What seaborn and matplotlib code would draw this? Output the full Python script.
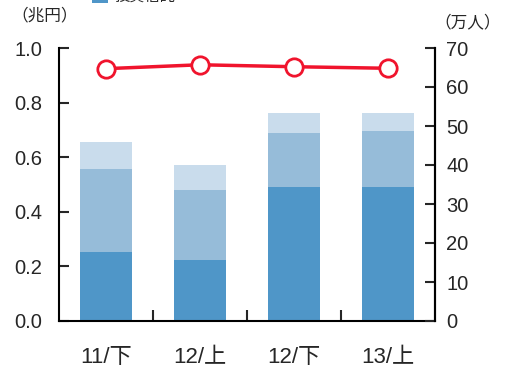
import matplotlib
matplotlib.use("Agg")
import matplotlib.pyplot as plt
import seaborn as sns
import pandas as pd
import numpy as np
from matplotlib.patches import Rectangle
from matplotlib.ticker import FixedLocator

sns.set_style("white")
plt.rcParams["font.family"] = ["Liberation Sans", "Noto Sans CJK JP", "DejaVu Sans"]

# Half-year periods
periods = ["11/下", "12/上", "12/下", "13/上"]
# Stacked amounts (兆円), bottom to top
seg_bottom = [0.253, 0.223, 0.491, 0.491]
seg_middle = [0.304, 0.257, 0.198, 0.205]
seg_top = [0.098, 0.091, 0.073, 0.066]
# Headcount (万人), right axis
people = [64.7, 65.7, 65.2, 64.8]

c_dark = "#4F96C8"
c_mid = "#96BCD9"
c_light = "#C9DCEC"
c_red = "#F0142D"

W, H = 509, 368

cum1 = np.array(seg_bottom)
cum2 = cum1 + np.array(seg_middle)
cum3 = cum2 + np.array(seg_top)
df = pd.DataFrame({"period": periods, "c1": cum1, "c2": cum2, "c3": cum3,
                   "pos": range(len(periods)), "people": people})

fig = plt.figure(figsize=(W / 100, H / 100), dpi=100)
ax = fig.add_axes([59 / W, 1 - 321 / H, (435 - 59) / W, (321 - 48) / H])

for col, color in [("c3", c_light), ("c2", c_mid), ("c1", c_dark)]:
    sns.barplot(data=df, x="period", y=col, order=periods, color=color,
                width=0.56, saturation=1, ax=ax, edgecolor="none", linewidth=0)

ax.set_xlim(-0.5, 3.5)
ax.set_ylim(0, 1.0)
ax.set_yticks(np.arange(0, 1.01, 0.2))
ax.set_yticklabels([f"{v:.1f}" for v in np.arange(0, 1.01, 0.2)])
ax.set_xlabel("")
ax.set_ylabel("")
ax.tick_params(axis="y", direction="in", length=7, width=1.5, labelsize=14.5, pad=12, left=True)
ax.tick_params(axis="x", which="major", length=0, labelsize=16, pad=19)
ax.xaxis.set_minor_locator(FixedLocator([0.5, 1.5, 2.5]))
ax.tick_params(axis="x", which="minor", direction="in", length=8, width=1.5, bottom=True)
ax.spines["top"].set_visible(False)
for s in ["left", "bottom", "right"]:
    ax.spines[s].set_color("black")
    ax.spines[s].set_linewidth(1.5)

ax2 = ax.twinx()
sns.lineplot(data=df, x="pos", y="people", ax=ax2, color=c_red, linewidth=2.5,
             marker="o", markersize=12.5, markerfacecolor="white",
             markeredgecolor=c_red, markeredgewidth=2)
ax2.set_ylim(0, 70)
ax2.set_xlim(-0.5, 3.5)
ax2.set_yticks(range(0, 71, 10))
ax2.set_ylabel("")
ax2.set_xlabel("")
ax2.tick_params(axis="y", direction="in", length=7, width=1.5, labelsize=14.5, pad=8, right=True)
for s in ["top", "left", "bottom"]:
    ax2.spines[s].set_visible(False)
ax2.spines["right"].set_color("black")
ax2.spines["right"].set_linewidth(1.5)

# Unit captions
fig.text(11 / W, 1 - 15 / H, "（兆円）", fontsize=12, ha="left", va="center")
fig.text(434 / W, 1 - 22 / H, "（万人）", fontsize=12, ha="left", va="center")

# Legend row running off the top edge
fig.add_artist(Rectangle((92 / W, 1 - 2.5 / H), 16 / W, 12 / H,
                         transform=fig.transFigure, facecolor=c_dark, edgecolor="none"))
fig.text(115 / W, 1 - 1 / H, "投資信託", fontsize=11, ha="left", va="baseline")

fig.savefig("out.png", dpi=100)
